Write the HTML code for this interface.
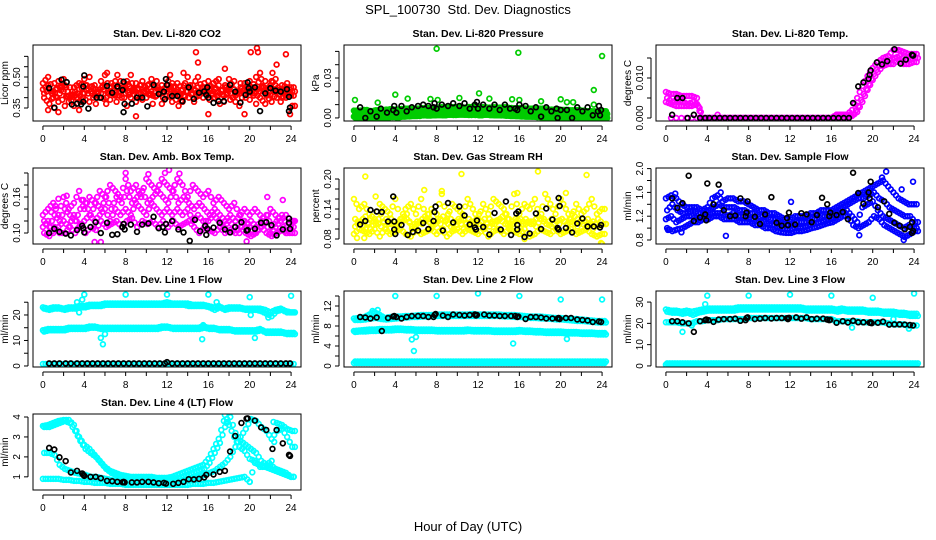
<!DOCTYPE html>
<html><head><meta charset="utf-8"><style>
html,body{margin:0;padding:0;background:#fff;}
svg{display:block;font-family:"Liberation Sans",Arial,sans-serif;}
</style></head><body>
<svg id="chart" width="936" height="540" viewBox="0 0 936 540" xmlns="http://www.w3.org/2000/svg">
<text x="468" y="14" text-anchor="middle" font-size="13">SPL_100730&#160; Std. Dev. Diagnostics</text>
<text x="468" y="531" text-anchor="middle" font-size="13">Hour of Day (UTC)</text>
</svg>
<script>
// ---------- data ----------
const xTicks=[0,2,4,6,8,10,12,14,16,18,20,22,24];
const xTickLabels=[0,4,8,12,16,20,24];

const p1Red=[
[.44,.46,.40,.48,.43,.38,.45,.47,.42,.50,.41,.44,.46,.39,.48,.43,.45,.40,.47,.42,.44,.49,.41,.46,.43,.38,.47,.44,.50,.42,.45,.40,.48,.43,.46,.41,.49,.44,.42,.47,.39,.45,.43,.48,.41,.46,.44,.40,.45],
[.40,.37,.47,.42,.36,.45,.41,.38,.46,.43,.37,.48,.40,.45,.38,.44,.36,.47,.41,.39,.46,.37,.44,.40,.48,.42,.36,.41,.45,.38,.43,.47,.39,.44,.37,.46,.42,.38,.47,.40,.45,.37,.49,.41,.38,.43,.40,.47,.36],
[.47,.50,.43,.38,.49,.41,.36,.44,.49,.38,.46,.40,.51,.43,.41,.48,.42,.51,.38,.46,.40,.43,.48,.37,.41,.47,.44,.38,.43,.46,.50,.43,.42,.47,.49,.38,.45,.48,.36,.44,.48,.42,.40,.37,.46,.49,.38,.43,.41],
[.42,.44,.35,.45,.46,.40,.43,.41,.39,.45,.44,.42,.37,.47,.45,.40,.48,.43,.44,.48,.43,.41,.45,.43,.46,.45,.41,.46,.40,.44,.41,.45,.44,.40,.42,.45,.39,.41,.45,.42,.43,.50,.45,.42,.48,.40,.46,.45,.43]];
const p1RedOut=[[9,.31],[14.8,.62],[15,.57],[20.7,.64],[20.8,.62],[20.1,.62],[23.5,.61],[22.6,.56],[16,.32],[19.5,.32],[23.9,.32],[6.2,.52],[17.6,.54],[13.6,.52],[21,.52],[22.2,.52],[0.5,.34],[1.5,.33],[3.5,.34],[7.2,.51],[12.3,.51]];
const p1Black=[[0.6,.446],[1.1,.352],[1.8,.487],[2.3,.475],[2.8,.367],[3.3,.371],[3.7,.368],[3.9,.38],[4.0,.508],[3.9,.454],[4.4,.347],[5.2,.40],[5.6,.40],[6.2,.457],[6.7,.424],[7.2,.454],[7.7,.437],[7.8,.477],[7.9,.37],[7.8,.33],[8.6,.371],[9.1,.40],[9.6,.40],[10.1,.358],[10.7,.462],[11.2,.418],[11.7,.429],[11.8,.393],[11.9,.49],[12.0,.462],[12.5,.408],[13.0,.408],[13.5,.383],[14.1,.45],[14.6,.394],[15.1,.424],[15.6,.43],[15.8,.413],[15.9,.45],[16.0,.40],[16.5,.375],[17.0,.383],[17.5,.383],[18.1,.462],[18.6,.429],[19.1,.376],[19.6,.413],[19.8,.474],[19.9,.446],[20.0,.429],[20.5,.45],[21.0,.335],[21.5,.421],[22.0,.446],[22.5,.434],[23.0,.429],[23.6,.441],[23.8,.404],[23.9,.352],[23.8,.335]];

const p2Green=[
[.0055,.005,.006,.005,.0055,.006,.006,.0065,.006,.0065,.007,.0065,.007,.007,.0075,.007,.0075,.008,.0075,.008,.008,.0075,.008,.0085,.008,.008,.0075,.008,.0075,.008,.0075,.007,.0075,.007,.007,.0065,.007,.0065,.006,.0065,.006,.006,.0055,.006,.0055,.005,.005,.0045,.005],
[.003,.0035,.003,.004,.0035,.004,.004,.0045,.004,.005,.0045,.005,.0055,.005,.0055,.006,.0055,.006,.006,.0065,.006,.006,.0065,.006,.0065,.006,.006,.0055,.006,.0055,.0055,.005,.0055,.005,.005,.0045,.0045,.004,.0045,.004,.004,.0035,.004,.0035,.0035,.003,.0035,.003,.003],
[.001,.0015,.001,.0015,.002,.0015,.002,.0025,.002,.003,.0025,.003,.0035,.003,.0035,.004,.0035,.004,.004,.0045,.004,.004,.0045,.004,.0045,.004,.004,.0035,.004,.0035,.0035,.003,.0035,.003,.003,.0025,.0025,.002,.0025,.002,.0015,.002,.0015,.002,.0015,.001,.0015,.001,.001],
[.0003,0,.0005,.0002,0,.0005,.0003,.0008,.0005,.001,.0012,.0015,.0015,.002,.0018,.002,.0022,.002,.0025,.0022,.0025,.0025,.0022,.0025,.002,.0025,.0022,.002,.002,.0018,.0015,.0015,.0012,.001,.001,.0008,.0005,.0003,.0005,0,.0003,.0005,0,.0003,.0005,0,.0003,.0005,0]];
const p2GreenOut=[[0.1,.0135],[2.3,.0115],[4,.0175],[5.2,.0145],[7.4,.0142],[8,.052],[8.1,.0135],[10.2,.015],[12.1,.0185],[13.1,.0145],[15.3,.014],[15.9,.049],[16,.0135],[18.1,.0125],[20,.014],[20.6,.0118],[21.2,.0118],[23.2,.021],[23.2,.01],[24,.0465]];
const p2Black=[[0.6,.008],[1.1,0],[1.6,.005],[2.2,.001],[2.6,.007],[3.2,.004],[3.8,.006],[3.9,.009],[4.1,.004],[4.6,.009],[5.1,.005],[5.6,.008],[6.2,.009],[6.7,.010],[7.2,.009],[7.7,.008],[7.8,.011],[8.0,.007],[8.5,.010],[9.1,.009],[9.6,.011],[10.2,.009],[10.7,.011],[11.2,.007],[11.7,.010],[11.9,.012],[12.0,.007],[12.5,.010],[13.1,.007],[13.6,.010],[14.1,.006],[14.6,.010],[15.1,.007],[15.6,.007],[15.8,.006],[16.0,.010],[16.6,.009],[17.1,.005],[17.6,.008],[18.1,.001],[18.6,.008],[19.1,.005],[19.6,.007],[19.7,0],[20.0,.006],[20.6,.006],[21.1,0],[21.6,.008],[22.1,.005],[22.6,.008],[23.1,.002],[23.6,.005],[23.7,.009],[23.8,.002],[23.9,.006]];

const p3Magenta=[
[.0065,.006,.006,.0055,.0055,.0055,.005,0,0,0,0,0,0,0,0,0,0,0,0,0,0,0,0,0,0,0,0,0,0,0,0,0,0,.0008,.0008,.0008,.002,.005,.008,.0105,.0125,.014,.015,.0155,.017,.017,.0165,.016,.016],
[.005,.004,.0045,.004,.0035,.004,.003,0,0,0,0,0,0,0,0,0,0,0,0,0,0,0,0,0,0,0,0,0,0,0,0,0,0,.0008,.0008,.0008,.0008,.003,.006,.0085,.011,.013,.014,.0145,.015,.0155,.0145,.0145,.015],
[.004,.0035,.003,.003,.003,.003,.0035,0,0,0,0,0,0,0,0,0,0,0,0,0,0,0,0,0,0,0,0,0,0,0,0,0,0,0,0,0,.0005,.0015,.004,.007,.0095,.0115,.013,.0135,.0135,.0145,.0135,.0135,.014]];
const p3MagentaOut=[[5,.0008],[0.5,0],[1,0],[1.5,0],[2,0],[2.5,0],[3,0],[16.5,.0008]];
const p3Black=[[0.6,.0008],[1.1,.005],[1.6,.005],[2.1,0],[2.7,.0008],[3.3,0],[3.8,0],[4.2,0],[4.7,0],[5.2,0],[5.7,0],[6.2,0],[6.7,0],[7.2,0],[7.7,0],[8.2,0],[8.7,0],[9.2,0],[9.7,0],[10.2,0],[10.7,0],[11.2,0],[11.7,0],[12.2,0],[12.7,0],[13.2,0],[13.7,0],[14.2,0],[14.7,0],[15.2,0],[15.7,0],[16.2,0],[16.7,0],[17.2,0],[17.7,0],[18.1,.00375],[18.6,.0079],[19.1,.0089],[19.6,.0098],[19.7,.0108],[19.8,.0119],[20.4,.0139],[20.9,.0134],[21.4,.0142],[22.1,.0172],[22.7,.0136],[23.2,.0146],[23.8,.0158],[23.9,.0156]];

const p4Magenta=[
[.13,.14,.15,.13,.16,.14,.15,.17,.14,.16,.15,.17,.16,.18,.17,.16,.19,.17,.18,.16,.19,.18,.17,.19,.18,.17,.19,.18,.16,.18,.17,.16,.17,.15,.16,.15,.14,.15,.13,.14,.13,.14,.13,.12,.14,.13,.12,.13,.12],
[.12,.11,.13,.12,.14,.13,.12,.14,.15,.13,.15,.14,.16,.14,.16,.15,.17,.15,.16,.17,.15,.16,.17,.16,.15,.17,.15,.16,.15,.14,.15,.14,.13,.14,.13,.12,.13,.12,.13,.11,.12,.11,.12,.13,.11,.12,.13,.11,.12],
[.11,.12,.10,.11,.12,.11,.13,.11,.12,.13,.12,.13,.14,.12,.14,.13,.14,.13,.15,.14,.13,.15,.14,.13,.14,.13,.14,.13,.14,.12,.13,.12,.12,.13,.12,.11,.12,.11,.10,.12,.11,.10,.11,.12,.10,.11,.12,.10,.11],
[.10,.095,.11,.10,.10,.11,.10,.115,.10,.11,.105,.12,.11,.115,.12,.11,.12,.125,.11,.12,.115,.12,.11,.12,.11,.12,.11,.115,.12,.11,.10,.11,.105,.10,.11,.10,.105,.10,.11,.10,.095,.10,.11,.10,.095,.10,.105,.10,.10]];
const p4MagentaOut=[[8,.20],[10.2,.198],[11.8,.2],[12.2,.205],[13.2,.199],[1.5,.157],[2.3,.162],[3.9,.155],[23.2,.155],[5,.085],[5.6,.085],[19.7,.086],[1.2,.145],[0.8,.135],[21.7,.16]];
const p4Black=[[0.6,.10],[1.1,.107],[1.6,.102],[2.2,.099],[2.7,.096],[3.3,.105],[3.8,.112],[3.9,.108],[4.0,.101],[4.6,.11],[5.1,.118],[5.6,.10],[6.2,.117],[6.7,.097],[7.2,.098],[7.7,.11],[7.8,.115],[7.9,.106],[8.5,.114],[9.1,.102],[9.6,.114],[10.2,.116],[10.7,.127],[11.2,.108],[11.6,.11],[11.8,.101],[11.9,.115],[12.5,.12],[13.1,.106],[13.6,.101],[14.2,.087],[14.7,.122],[15.2,.103],[15.7,.112],[15.8,.097],[15.9,.107],[16.5,.109],[17.1,.117],[17.6,.106],[18.1,.101],[18.6,.11],[19.2,.118],[19.7,.104],[19.8,.105],[20.5,.107],[21.1,.117],[21.6,.118],[22.1,.113],[22.6,.096],[23.2,.106],[23.8,.117],[23.9,.107],[23.8,.124]];

const p5Yellow=[
[.16,.14,.15,.13,.12,.15,.14,.13,.16,.12,.14,.15,.13,.16,.12,.14,.13,.17,.12,.15,.14,.13,.16,.14,.12,.15,.13,.16,.15,.14,.12,.17,.13,.15,.14,.16,.12,.17,.15,.13,.16,.14,.12,.15,.13,.14,.16,.13,.14],
[.12,.11,.10,.12,.11,.13,.10,.12,.11,.12,.13,.10,.11,.12,.13,.11,.12,.10,.13,.11,.12,.10,.12,.11,.13,.10,.12,.11,.12,.13,.11,.12,.10,.12,.11,.12,.13,.11,.12,.10,.12,.11,.13,.12,.11,.12,.10,.12,.11],
[.09,.10,.095,.09,.10,.085,.10,.09,.095,.10,.09,.085,.10,.09,.095,.10,.09,.10,.085,.095,.10,.09,.10,.095,.09,.10,.085,.095,.10,.09,.10,.095,.09,.10,.085,.09,.10,.095,.09,.10,.09,.095,.10,.09,.095,.10,.09,.085,.09],
[.105,.115,.125,.10,.115,.105,.12,.11,.105,.115,.12,.105,.115,.11,.12,.105,.115,.125,.11,.10,.115,.12,.105,.115,.11,.12,.105,.115,.12,.11,.105,.115,.12,.11,.115,.105,.12,.11,.105,.115,.12,.11,.115,.105,.12,.11,.115,.105,.11]];
const p5YellowOut=[[1.1,.205],[10.4,.21],[17.8,.215],[22.5,.208],[6.8,.178],[8.5,.176],[0.3,.082],[1,.082],[24,.07],[23.9,.072],[16.5,.08],[2.1,.165],[15.8,.172],[20.5,.172]];
const p5Black=[[0.6,.109],[1.1,.116],[1.6,.138],[2.2,.135],[2.7,.134],[3.3,.115],[3.8,.165],[3.9,.115],[3.9,.099],[4.0,.09],[4.6,.108],[5.2,.088],[5.7,.094],[6.2,.097],[6.7,.112],[7.2,.100],[7.7,.116],[7.8,.134],[7.9,.145],[8.6,.097],[9.1,.152],[9.6,.113],[10.2,.145],[10.7,.127],[11.2,.109],[11.7,.103],[11.8,.099],[11.9,.117],[12.5,.104],[13.1,.089],[13.6,.132],[14.2,.099],[14.7,.155],[15.2,.088],[15.7,.131],[15.8,.108],[15.8,.099],[15.9,.135],[16.5,.084],[17.0,.091],[17.6,.131],[18.1,.100],[18.6,.141],[19.2,.119],[19.7,.102],[19.8,.162],[19.8,.099],[19.9,.146],[20.5,.102],[21.1,.093],[21.6,.111],[22.1,.121],[22.6,.105],[23.2,.105],[23.8,.103],[23.9,.108]];

const p6Blue=[
[1.5,1.55,1.5,1.4,1.35,1.35,1.35,1.3,1.35,1.5,1.55,1.45,1.5,1.5,1.45,1.45,1.4,1.35,1.3,1.3,1.25,1.25,1.2,1.15,1.15,1.2,1.2,1.2,1.25,1.25,1.3,1.3,1.3,1.35,1.4,1.45,1.5,1.55,1.6,1.65,1.7,1.75,1.8,1.7,1.6,1.5,1.45,1.4,1.4],
[1.3,1.4,1.3,1.25,1.25,1.3,1.25,1.25,1.3,1.35,1.4,1.35,1.35,1.35,1.3,1.3,1.25,1.25,1.2,1.2,1.15,1.15,1.1,1.05,1.05,1.1,1.1,1.1,1.15,1.15,1.2,1.2,1.25,1.3,1.35,1.4,1.45,1.5,1.5,1.55,1.6,1.5,1.45,1.35,1.3,1.25,1.2,1.2,1.1],
[1.15,1.2,1.1,1.15,1.2,1.2,1.15,1.2,1.2,1.25,1.25,1.25,1.2,1.25,1.2,1.2,1.15,1.15,1.1,1.1,1.05,1.05,1.0,0.98,0.97,1.0,1.0,1.02,1.05,1.08,1.1,1.12,1.15,1.2,1.25,1.3,1.2,1.1,1.35,1.4,1.45,1.3,1.2,1.15,1.1,1.05,1.0,1.05,1.0],
[1.0,0.95,0.98,1.0,1.05,1.1,1.1,1.15,1.15,1.2,1.2,1.15,1.15,1.15,1.1,1.1,1.1,1.05,1.05,1.0,1.0,0.95,0.93,0.92,0.92,0.95,0.95,0.97,1.0,1.02,1.05,1.08,1.1,1.15,1.2,1.2,1.05,1.0,1.05,1.1,1.2,1.15,1.05,1.0,0.95,0.9,0.85,0.9,0.95]];
const p6BlueOut=[[5.8,.87],[18.7,.88],[21.3,1.95],[20.9,1.85],[23.9,1.78],[22.8,1.65],[12.1,1.44],[23,.8],[0.2,.97],[1.5,.93],[0.9,1.58],[5.3,1.6]];
const p6Black=[[0.6,1.5],[1.1,1.34],[1.6,1.42],[2.2,1.88],[2.7,1.12],[3.3,1.18],[3.8,1.23],[3.9,1.13],[4.0,1.75],[4.6,1.40],[5.1,1.73],[5.6,1.30],[6.2,1.20],[6.7,1.21],[7.2,1.50],[7.7,1.20],[7.8,1.26],[7.9,1.45],[8.6,1.19],[9.1,1.07],[9.6,1.23],[10.2,1.52],[10.7,1.09],[11.2,1.04],[11.7,1.17],[11.8,1.05],[11.9,1.26],[12.5,1.06],[13.1,1.25],[13.6,1.23],[14.1,1.10],[14.6,1.22],[15.1,1.51],[15.6,1.40],[15.8,1.20],[15.9,1.26],[16.5,1.22],[17.1,1.27],[17.6,1.15],[18.1,1.93],[18.6,1.59],[19.1,1.41],[19.6,1.60],[19.7,1.50],[19.8,1.78],[20.5,1.35],[21.1,1.45],[21.6,1.24],[22.1,1.09],[22.6,1.04],[23.1,0.98],[23.6,1.02],[23.8,1.10],[23.9,0.95],[23.8,0.92]];

const p7Cyan=[
[23,22.5,23,23,22.5,23,23,23.5,23.5,24,24,24,24.5,24.5,24.5,24.5,24.5,24.5,24.5,24.5,24.5,24.5,24.5,24.5,25,24.5,24.5,24.5,24.5,24,24,24,23.5,23,23.5,22.5,23,23,23,22.5,22.5,22.5,22.5,22,21,22,22.5,21.5,21],
[22.5,22,22.5,22.5,22,22.5,22.5,23,23,23.5,23.5,23.5,24,24,24,24,24,24,24,24,24,24,24,24,24,24,24,24,23.5,23.5,23.5,23.5,23,22,23,22,22.5,22.5,22.5,22,22,22,21.5,20.5,19.5,21.5,22,21,21],
[14,14.5,14.5,14.5,14.5,15,15,15,15,15.5,15.5,15,15,15,15,15,15,15,15,15,15,15,15,15.5,15.5,15,15,15,15,15,15,15.5,15,15,14.5,14.5,14.5,14,14,14,14,14,14.5,13.5,13.5,13.5,13.5,13,13],
[13.5,14,14,14,14,14.5,14.5,14.5,14.5,15,15,14.5,14.5,14.5,14.5,14.5,14.5,14.5,14.5,14.5,14.5,14.5,14.5,15,15,14.5,14.5,14.5,14.5,14.5,14.5,15,14.5,14.5,14,14,14,13.5,13.5,13.5,13.5,13.5,14,13,13,13,13,12.5,12.5],
[0.8,0.8,0.8,0.8,0.8,0.8,0.8,0.8,0.8,0.8,0.8,0.8,0.8,0.8,0.8,0.8,0.8,0.8,0.8,0.8,0.8,0.8,0.8,0.8,0.8,0.8,0.8,0.8,0.8,0.8,0.8,0.8,0.8,0.8,0.8,0.8,0.8,0.8,0.8,0.8,0.8,0.8,0.8,0.8,0.8,0.8,0.8,0.8,0.8]];
const p7CyanOut=[[3.5,21],[3.8,26],[4,28],[3.3,25],[5.6,11],[5.8,8.5],[6,12.5],[8,28],[12,28],[15.4,10.5],[15.5,16],[16,28],[16.8,25],[20,27],[20.1,20],[20.5,11],[21.8,19],[24,27.5]];
const p7Black=[[0.6,1],[1.1,1],[1.6,1],[2.2,1],[2.7,1],[3.3,1],[3.8,1],[4.3,1],[4.8,1],[5.3,1],[5.8,1],[6.3,1],[6.8,1],[7.3,1],[7.8,1],[8.3,1],[8.8,1],[9.3,1],[9.8,1],[10.3,1],[10.8,1],[11.3,1],[11.8,1],[12.0,1.5],[12.5,1],[13.0,1],[13.5,1],[14.0,1],[14.5,1],[15.0,1],[15.5,1],[16.0,1],[16.5,1],[17.0,1],[17.5,1],[18.0,1],[18.5,1],[19.0,1],[19.5,1],[20.0,1],[20.5,1],[21.0,1],[21.5,1],[22.0,1],[22.5,1],[23.0,1],[23.5,1],[23.9,1]];

const p8Cyan=[
[9.5,9.6,9.8,10.3,10.8,10.2,9.6,9.8,9.9,9.9,10,10,10.1,10.2,10.2,10.2,10.3,10.3,10.3,10.3,10.3,10.3,10.3,10.4,10.3,10.3,10.3,10.3,10.3,10.2,10.2,10.2,10.1,10,9.9,9.9,9.9,9.8,9.7,9.6,9.6,9.5,9.4,9.4,9.3,9.2,9.1,9.0,9.0],
[9.2,9.2,9.3,9.5,9.6,9.4,9.3,9.4,9.5,9.6,9.7,9.8,9.8,9.9,9.9,10,10,10,10,10,10,10,10,10,10,10,10,10,10,9.9,9.9,9.8,9.8,9.7,9.6,9.6,9.5,9.5,9.4,9.3,9.3,9.2,9.1,9.0,9.0,8.9,8.8,8.7,8.7],
[7.0,7.1,7.2,7.3,7.3,7.4,7.4,7.4,7.5,7.5,7.4,7.4,7.3,7.3,7.3,7.3,7.2,7.2,7.2,7.2,7.2,7.2,7.3,7.2,7.2,7.2,7.2,7.1,7.1,7.1,7.1,7.1,7.2,7.1,7.1,7.0,7.0,6.9,6.9,6.9,6.9,6.8,6.8,6.8,6.7,6.7,6.7,6.6,6.6],
[6.8,6.9,6.9,7.0,7.0,7.1,7.1,7.1,7.2,7.2,7.1,7.1,7.0,7.0,7.0,7.0,6.9,6.9,6.9,6.9,6.9,6.9,7.0,6.9,6.9,6.9,6.9,6.8,6.8,6.8,6.8,6.8,6.9,6.8,6.8,6.7,6.7,6.6,6.6,6.6,6.6,6.5,6.5,6.5,6.4,6.4,6.4,6.3,6.3],
[0.6,0.6,0.6,0.6,0.6,0.6,0.6,0.6,0.6,0.6,0.6,0.6,0.6,0.6,0.6,0.6,0.6,0.6,0.6,0.6,0.6,0.6,0.6,0.6,0.6,0.6,0.6,0.6,0.6,0.6,0.6,0.6,0.6,0.6,0.6,0.6,0.6,0.6,0.6,0.6,0.6,0.6,0.6,0.6,0.6,0.6,0.6,0.6,0.6],
[0.9,0.9,0.9,0.9,0.9,0.9,0.9,0.9,0.9,0.9,0.9,0.9,0.9,0.9,0.9,0.9,0.9,0.9,0.9,0.9,0.9,0.9,0.9,0.9,0.9,0.9,0.9,0.9,0.9,0.9,0.9,0.9,0.9,0.9,0.9,0.9,0.9,0.9,0.9,0.9,0.9,0.9,0.9,0.9,0.9,0.9,0.9,0.9,0.9]];
const p8CyanOut=[[4,14],[8,14],[12,14.5],[16,14],[20,13.3],[24,13.3],[5.8,3],[5.6,5.3],[6,5.8],[15.4,4.5],[20.6,5.4],[2.6,7.1],[1.8,11],[2.3,11.2]];
const p8Black=[[0.6,9.8],[1.1,9.7],[1.6,9.5],[2.2,9.7],[2.7,7.0],[3.3,9.6],[3.8,9.9],[3.9,10.0],[4.1,9.8],[4.6,9.5],[5.1,9.8],[5.6,10],[6.2,10],[6.7,10],[7.2,9.8],[7.7,9.8],[7.8,10.2],[7.9,10.4],[8.6,10.1],[9.1,9.8],[9.6,10.3],[10.2,10.2],[10.7,10.1],[11.2,10.2],[11.7,10.3],[11.8,10.1],[11.9,10.2],[12.6,10.3],[13.1,10.1],[13.6,10.1],[14.1,10],[14.6,10],[15.2,10],[15.6,10],[15.8,9.8],[15.9,9.9],[16.6,9.4],[17.1,9.8],[17.6,9.8],[18.1,9.7],[18.6,9.5],[19.2,9.5],[19.7,9.5],[19.8,9.6],[19.9,9.4],[20.5,9.6],[21.0,9.6],[21.6,9.3],[22.1,9.2],[22.6,9.1],[23.1,8.8],[23.7,8.9],[23.9,8.8]];

const p9Cyan=[
[26.5,26,26,25.5,26,25.5,26,26.5,27,27,27,27,27,27,27.5,27.5,27.5,27.5,27.5,27.5,27.5,27.5,27.5,27.5,27.5,27.5,27.5,27,27,27,27,27,27,26.5,27,26.5,26.5,26.5,26.5,26,26,26,25.5,25.5,25.5,25,25,24.5,24.5],
[25.5,25,25,24.5,25,24,25,25.5,26,26,26,26,26,26,26.5,26.5,26.5,26.5,26.5,26.5,26.5,26.5,26.5,26.5,26.5,26.5,26.5,26,26,26,26,26,26,25.5,26,25.5,25.5,25.5,25.5,25,25,25,24.5,24.5,24.5,24,24,23.5,23.5],
[20.5,20.5,20.5,20,20,20,21,21,21.5,21.5,21.5,22,22,22,22,22,22.5,22.5,22.5,22.5,22.5,22.5,22.5,22.5,22.5,22.5,22.5,22.5,22,22,22,22,22,21,21,21,21,21,20.5,20.5,20.5,20.5,20.5,20,19.5,19.5,19.5,19,19],
[1.2,1.2,1.2,1.2,1.2,1.2,1.2,1.2,1.2,1.2,1.2,1.2,1.2,1.2,1.2,1.2,1.2,1.2,1.2,1.2,1.2,1.2,1.2,1.2,1.2,1.2,1.2,1.2,1.2,1.2,1.2,1.2,1.2,1.2,1.2,1.2,1.2,1.2,1.2,1.2,1.2,1.2,1.2,1.2,1.2,1.2,1.2,1.2,1.2],
[0.6,0.6,0.6,0.6,0.6,0.6,0.6,0.6,0.6,0.6,0.6,0.6,0.6,0.6,0.6,0.6,0.6,0.6,0.6,0.6,0.6,0.6,0.6,0.6,0.6,0.6,0.6,0.6,0.6,0.6,0.6,0.6,0.6,0.6,0.6,0.6,0.6,0.6,0.6,0.6,0.6,0.6,0.6,0.6,0.6,0.6,0.6,0.6,0.6]];
const p9CyanOut=[[4,33],[8,33],[12,33.5],[16,33],[20,32],[24,34],[1.6,16],[3.8,29],[2.5,19],[18,18],[22,22],[23.5,17.5]];
const p9Black=[[0.6,21],[1.1,21],[1.6,20.5],[2.2,20],[2.7,16],[3.3,21],[3.8,21.5],[3.9,21.8],[4.1,21.5],[4.6,20.7],[5.1,21.8],[5.6,22],[6.2,22],[6.7,22.2],[7.2,21.2],[7.7,21.5],[7.8,22.5],[7.9,22.8],[8.6,22],[9.1,22.2],[9.6,22.5],[10.2,22.3],[10.7,22.5],[11.2,22.5],[11.7,22.4],[11.8,22],[11.9,22.6],[12.6,22.8],[13.1,22.2],[13.6,22.8],[14.1,22],[14.6,22.2],[15.2,22.2],[15.6,21.8],[15.8,21.5],[15.9,21.7],[16.5,20.3],[17.1,21],[17.6,20.4],[18.1,21.2],[18.6,20.5],[19.1,20.5],[19.7,20.3],[19.8,20.5],[19.9,20.1],[20.5,20.3],[21,20.8],[21.6,19.4],[22.1,19.5],[22.6,19.5],[23.1,19.4],[23.6,19.2],[23.9,19]];

const p10Cyan=[
[3.55,3.6,3.7,3.8,3.85,3.85,3.6,3.0,2.6,2.4,2.1,1.8,1.5,1.3,1.2,1.1,1.05,1.0,1.0,1.0,1.0,1.0,0.95,0.95,0.95,1.0,1.1,1.2,1.3,1.4,1.5,1.6,1.9,2.4,2.9,3.8,3.6,3.0,2.5,2.3,1.9,1.8,1.5,1.5,1.6,1.4,1.3,1.2,1.0],
[2.2,2.2,2.1,1.6,1.4,1.3,1.2,1.15,1.1,1.0,1.0,0.95,0.9,0.85,0.8,0.8,0.8,0.75,0.75,0.75,0.75,0.75,0.75,0.7,0.7,0.75,0.8,0.85,0.9,0.95,1.0,1.1,1.2,1.3,1.5,1.7,2.0,2.5,3.0,3.4,3.9,3.8,3.5,3.3,2.9,3.3,3.4,3.0,2.5],
[0.9,0.9,0.9,0.9,0.85,0.85,0.8,0.8,0.75,0.75,0.7,0.7,0.7,0.65,0.65,0.65,0.6,0.6,0.6,0.6,0.6,0.6,0.6,0.6,0.6,0.6,0.6,0.6,0.6,0.65,0.65,0.65,0.7,0.7,0.75,0.8,0.85,0.9,0.95,1.0,0.75,1.7,1.6,1.5,1.4,1.3,1.2,1.1,1.0],
[3.5,3.5,3.6,3.7,3.8,3.7,3.3,2.8,2.4,2.2,2.0,1.7,1.4,1.2,1.1,1.05,1.0,0.95,0.95,0.9,0.9,0.9,0.9,0.9,0.9,0.9,0.95,1.0,1.1,1.2,1.3,1.4,1.7,2.2,2.7,3.5,4.0,3.2,2.8,2.6,2.4,2.2,1.8,1.6,1.8,3.7,3.6,3.4,3.3]];
const p10CyanOut=[[17.6,4.1],[17.8,3.9],[20,0.75],[24,1.0],[22.3,3.75]];
const p10Black=[[0.6,2.45],[1.1,2.37],[1.6,1.98],[2.2,1.79],[2.7,1.22],[3.3,1.3],[3.8,1.17],[3.9,1.1],[4.0,1.05],[4.6,1.0],[5.1,1.0],[5.6,0.93],[6.2,0.8],[6.7,0.78],[7.2,0.75],[7.7,0.73],[7.8,0.75],[7.9,0.72],[8.6,0.72],[9.1,0.72],[9.6,0.75],[10.2,0.75],[10.7,0.72],[11.2,0.68],[11.7,0.7],[11.9,0.66],[12.6,0.65],[13.1,0.7],[13.6,0.75],[14.1,0.88],[14.6,0.87],[15.1,0.9],[15.6,0.97],[15.8,1.1],[16.5,1.12],[17.1,1.25],[17.6,1.3],[18.1,2.27],[18.6,3.05],[19.2,3.7],[19.7,3.92],[19.8,3.93],[20.5,3.82],[21.1,3.48],[21.6,3.35],[22.2,2.4],[22.6,3.35],[23.2,2.68],[23.8,2.1],[23.9,2.05]];

// ---------- drawing ----------
const NS='http://www.w3.org/2000/svg';
const svg=document.getElementById('chart');
function mk(tag,attrs,parent){const e=document.createElementNS(NS,tag);for(const k in attrs)e.setAttribute(k,attrs[k]);(parent||svg).appendChild(e);return e;}

const panels=[
 {key:'co2',title:'Stan. Dev. Li-820 CO2',ylab:'Licor ppm',col:0,row:0,ymin:.287,ymax:.655,ticks:[.35,.40,.45,.50,.55,.60],labels:[[.35,'0.35'],[.50,'0.50']],color:'#ff0000',series:p1Red,out:p1RedOut,black:p1Black,offs:[0,0.25]},
 {key:'pressure',title:'Stan. Dev. Li-820 Pressure',ylab:'kPa',col:1,row:0,ymin:-.0023,ymax:.0548,ticks:[0,.01,.02,.03,.04,.05],labels:[[0,'0.00'],[.03,'0.03']],color:'#00cc00',series:p2Green,out:p2GreenOut,black:p2Black,offs:[0,0.125,0.25,0.375]},
 {key:'temp',title:'Stan. Dev. Li-820 Temp.',ylab:'degrees C',col:2,row:0,ymin:-.00075,ymax:.01825,ticks:[0,.005,.010,.015],labels:[[0,'0.000'],[.010,'0.010']],color:'#ff00ff',series:p3Magenta,out:p3MagentaOut,black:p3Black,offs:[0,0.25]},
 {key:'ambbox',title:'Stan. Dev. Amb. Box Temp.',ylab:'degrees C',col:0,row:1,ymin:.0817,ymax:.2083,ticks:[.10,.12,.14,.16,.18,.20],labels:[[.10,'0.10'],[.16,'0.16']],color:'#ff00ff',series:p4Magenta,out:p4MagentaOut,black:p4Black,offs:[0,0.25]},
 {key:'rh',title:'Stan. Dev. Gas Stream RH',ylab:'percent',col:1,row:1,ymin:.07,ymax:.222,ticks:[.08,.10,.12,.14,.16,.18,.20],labels:[[.08,'0.08'],[.14,'0.14'],[.20,'0.20']],color:'#ffff00',series:p5Yellow,out:p5YellowOut,black:p5Black,offs:[0,0.25]},
 {key:'sampleflow',title:'Stan. Dev. Sample Flow',ylab:'ml/min',col:2,row:1,ymin:.733,ymax:2.01,ticks:[.8,1.0,1.2,1.4,1.6,1.8,2.0],labels:[[.8,'0.8'],[1.2,'1.2'],[1.6,'1.6'],[2.0,'2.0']],color:'#0000ff',series:p6Blue,out:p6BlueOut,black:p6Black,offs:[0,0.25]},
 {key:'line1',title:'Stan. Dev. Line 1 Flow',ylab:'ml/min',col:0,row:2,ymin:-.4,ymax:29.4,ticks:[0,5,10,15,20,25],labels:[[0,'0'],[10,'10'],[20,'20']],color:'#00ffff',series:p7Cyan,out:p7CyanOut,black:p7Black,offs:[0,0.25]},
 {key:'line2',title:'Stan. Dev. Line 2 Flow',ylab:'ml/min',col:1,row:2,ymin:-.2,ymax:15,ticks:[0,2,4,6,8,10,12,14],labels:[[0,'0'],[4,'4'],[8,'8'],[12,'12']],color:'#00ffff',series:p8Cyan,out:p8CyanOut,black:p8Black,offs:[0,0.25]},
 {key:'line3',title:'Stan. Dev. Line 3 Flow',ylab:'ml/min',col:2,row:2,ymin:-.5,ymax:35.2,ticks:[0,10,20,30],labels:[[0,'0'],[10,'10'],[20,'20'],[30,'30']],color:'#00ffff',series:p9Cyan,out:p9CyanOut,black:p9Black,offs:[0,0.25]},
 {key:'line4',title:'Stan. Dev. Line 4 (LT) Flow',ylab:'ml/min',col:0,row:3,ymin:.34,ymax:4.15,ticks:[1,2,3,4],labels:[[1,'1'],[2,'2'],[3,'3'],[4,'4']],color:'#00ffff',series:p10Cyan,out:p10CyanOut,black:p10Black,offs:[0,0.25]}
];
const colLeft=[33,344,656], W=268, rowTop=[45,168,291,414], H=76;
const XMIN=-0.96, XMAX=24.96;

panels.forEach(p=>{
  const L=colLeft[p.col], T=rowTop[p.row];
  const xs=v=>L+(v-XMIN)/(XMAX-XMIN)*W;
  const ys=v=>T+H-(v-p.ymin)/(p.ymax-p.ymin)*H;
  const g=mk('g',{});
  
  
  const t=mk('text',{x:L+W/2,y:T-8,'text-anchor':'middle','font-size':'10.5','font-weight':'bold'},g);
  t.textContent=p.title;
  
  
  const clip=mk('clipPath',{id:'clip-'+p.key},g);
  mk('rect',{x:L,y:T,width:W,height:H},clip);
  const pts=mk('g',{'clip-path':'url(#clip-'+p.key+')',fill:'none','stroke-width':'1.7'},g);
  
  
  p.series.forEach((arr,k)=>{
    p.offs.forEach((o,j)=>{
      const shift=(o+(k%2?0.12:0));
      arr.forEach((v,i)=>{
        const vv=(j%2 && i+1<arr.length)?(v+arr[i+1])/2:v;
        const c=mk('circle',{cx:xs(i*0.5+shift),cy:ys(j%2?arr[(i+k+1)%arr.length]*0+vv:v),r:2.4,stroke:p.color},pts);
        
        
      });
    });
  });
  p.out.forEach(d=>{
    const c=mk('circle',{cx:xs(d[0]),cy:ys(d[1]),r:2.4,stroke:p.color},pts);
    
    
  });
  p.black.forEach(d=>{
    const c=mk('circle',{cx:xs(d[0]),cy:ys(d[1]),r:2.4,stroke:'#000'},pts);
    
    
  });
  const box=mk('rect',{x:L,y:T,width:W,height:H,fill:'none',stroke:'#000','stroke-width':'1'},g);
  
  
  const xa=mk('g',{},g);
  
  
  const ay=T+H+5;
  mk('line',{x1:xs(xTicks[0]),x2:xs(xTicks[xTicks.length-1]),y1:ay,y2:ay,stroke:'#000'},xa);
  xTicks.forEach(v=>mk('line',{x1:xs(v),x2:xs(v),y1:ay,y2:ay+4,stroke:'#000'},xa));
  xTickLabels.forEach(v=>{const tt=mk('text',{x:xs(v),y:ay+16,'text-anchor':'middle','font-size':'10'},xa);tt.textContent=v;});
  const ya=mk('g',{},g);
  
  
  const ax=L-5;
  mk('line',{x1:ax,x2:ax,y1:ys(p.ticks[0]),y2:ys(p.ticks[p.ticks.length-1]),stroke:'#000'},ya);
  p.ticks.forEach(v=>mk('line',{x1:ax-4,x2:ax,y1:ys(v),y2:ys(v),stroke:'#000'},ya));
  p.labels.forEach(l=>{const tt=mk('text',{x:0,y:0,'text-anchor':'middle','font-size':'10',transform:'translate('+(ax-8)+','+ys(l[0])+') rotate(-90)'},ya);tt.textContent=l[1];});
  const yt=mk('text',{x:0,y:0,'text-anchor':'middle','font-size':'10',transform:'translate('+(L-25)+','+(T+H/2)+') rotate(-90)'},g);
  yt.textContent=p.ylab;
  
  
});
</script>
</body></html>
